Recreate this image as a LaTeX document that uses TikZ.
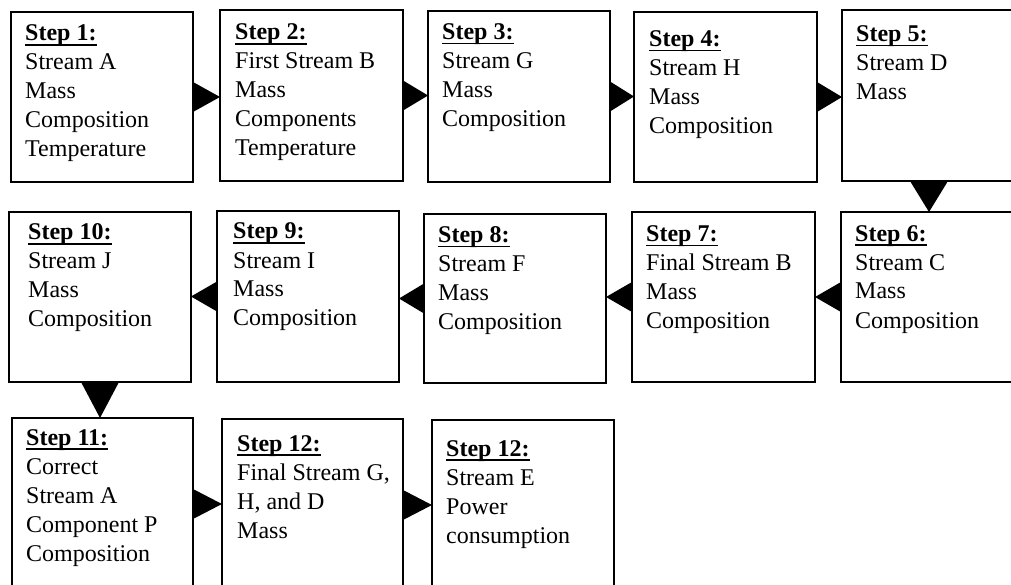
\documentclass[tikz,border=0pt]{standalone}
\usepackage{fontspec}
\setmainfont{Liberation Serif}
\usetikzlibrary{calc}

% bold, underlined step heading
\newcommand\steplabel[1]{\setbox0\hbox{\bfseries #1}\rlap{\rule[-4.8pt]{\wd0}{1.6pt}}\box0}
% box with its top-left corner, width and height
\newcommand\stepbox[5]{\node[box, minimum width=#4pt, minimum height=#5pt] (#1) at (#2,#3) {};}
% text block placed inside a box: name, box, inset, first baseline, lines
\newcommand\steptext[5]{\node[txt] (#1) at ($(#2.north west)+(#3,#4)$) {\begin{tabular}[t]{@{}l@{}}#5\end{tabular}};}
% solid triangular connectors
\newcommand\arrR[2]{\fill[tri] ($(#1.east)+(0,-15)$) -- ($(#1.east)+(0,15)$) -- (#1.east -| #2.west) -- cycle;}
\newcommand\arrL[2]{\fill[tri] ($(#1.west)+(0,-15)$) -- ($(#1.west)+(0,15)$) -- (#1.west -| #2.east) -- cycle;}
\newcommand\arrD[2]{\fill[tri] ($(#1.south)+(-19,0)$) -- ($(#1.south)+(19,0)$) -- (#1.south |- #2.north) -- cycle;}

\begin{document}
\begin{tikzpicture}[x=1pt, y=-1pt,
  box/.style={draw=black, line width=1.4pt, rectangle, inner sep=0pt, outer sep=0pt, anchor=north west},
  txt/.style={anchor=base west, inner sep=0pt, font=\fontsize{24}{29}\selectfont},
  tri/.style={fill=black}]
\useasboundingbox (0,0) rectangle (1011,585);
\clip (0,0) rectangle (1011,585);

% row 1
\stepbox{s1}{11}{12}{182}{170}
\stepbox{s2}{220}{10}{183}{171}
\stepbox{s3}{428}{11}{182}{171}
\stepbox{s4}{634}{12}{183}{170}
\stepbox{s5}{842}{10}{174}{171}
% row 2
\stepbox{s6}{841}{212}{176}{170}
\stepbox{s7}{632}{212}{183}{170}
\stepbox{s8}{424}{214}{182}{169}
\stepbox{s9}{217}{211}{182}{171}
\stepbox{s10}{9}{212}{182}{170}
% row 3
\stepbox{s11}{12}{418}{181}{172}
\stepbox{s12}{222}{419}{181}{172}
\stepbox{s13}{432}{420}{182}{172}

\steptext{t1}{s1}{14}{29}{\steplabel{Step 1:}\\ Stream A\\ Mass\\ Composition\\ Temperature}
\steptext{t2}{s2}{15}{30}{\steplabel{Step 2:}\\ First Stream B\\ Mass\\ Components\\ Temperature}
\steptext{t3}{s3}{14}{28.5}{\steplabel{Step 3:}\\ Stream G\\ Mass\\ Composition}
\steptext{t4}{s4}{15}{34.5}{\steplabel{Step 4:}\\ Stream H\\ Mass\\ Composition}
\steptext{t5}{s5}{14}{31.5}{\steplabel{Step 5:}\\ Stream D\\ Mass}
\steptext{t6}{s6}{14}{29}{\steplabel{Step 6:}\\ Stream C\\ Mass\\ Composition}
\steptext{t7}{s7}{14}{29.5}{\steplabel{Step 7:}\\ Final Stream B\\ Mass\\ Composition}
\steptext{t8}{s8}{14}{28.5}{\steplabel{Step 8:}\\ Stream F\\ Mass\\ Composition}
\steptext{t9}{s9}{16}{28}{\steplabel{Step 9:}\\ Stream I\\ Mass\\ Composition}
\steptext{t10}{s10}{19}{28}{\steplabel{Step 10:}\\ Stream J\\ Mass\\ Composition}
\steptext{t11}{s11}{14}{27}{\steplabel{Step 11:}\\ Correct\\ Stream A\\ Component P\\ Composition}
\steptext{t12}{s12}{15}{32}{\steplabel{Step 12:}\\ Final Stream G,\\ H, and D\\ Mass}
\steptext{t13}{s13}{14}{36}{\steplabel{Step 12:}\\ Stream E\\ Power\\ consumption}

% connectors
\arrR{s1}{s2}
\arrR{s2}{s3}
\arrR{s3}{s4}
\arrR{s4}{s5}
\arrD{s5}{s6}
\arrL{s6}{s7}
\arrL{s7}{s8}
\arrL{s8}{s9}
\arrL{s9}{s10}
\arrD{s10}{s11}
\arrR{s11}{s12}
\arrR{s12}{s13}
\end{tikzpicture}
\end{document}
